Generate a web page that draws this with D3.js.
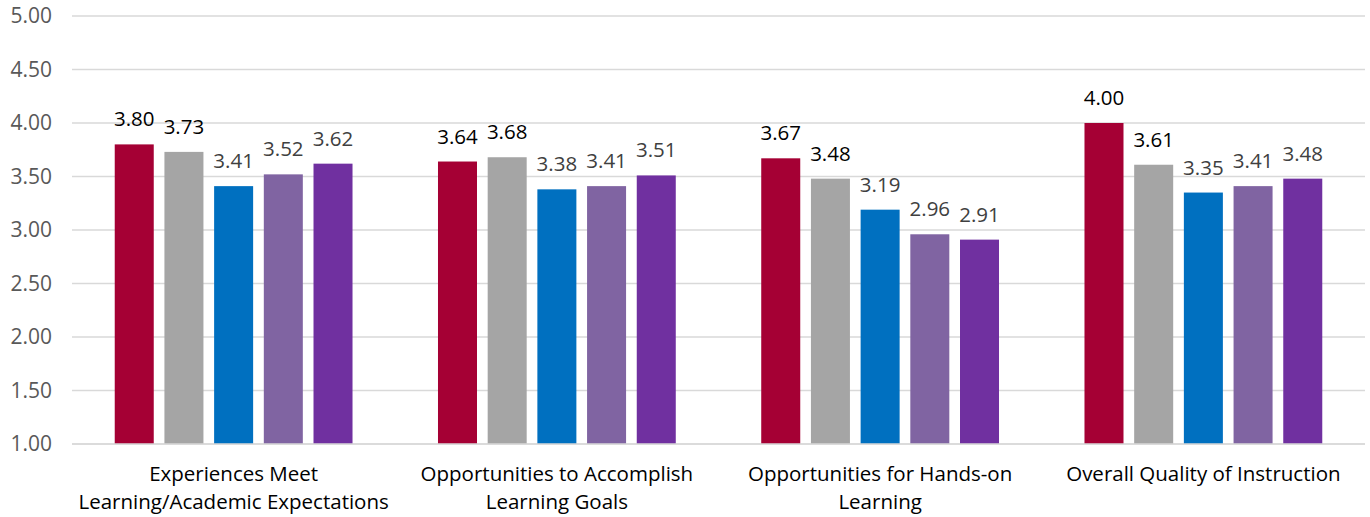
<!DOCTYPE html>
<html>
<head>
<meta charset="utf-8">
<script src="https://cdn.jsdelivr.net/npm/d3@7"></script>
<style>
  html, body { margin: 0; padding: 0; background: #fff; }
  svg { display: block; }
  text { font-family: "Open Sans", "Noto Sans", sans-serif; }
</style>
</head>
<body>
<svg id="chart" width="1370" height="517"></svg>
<script>
// Survey item categories (each label split into its display lines)
const categories = [
  "Experiences Meet Learning/Academic Expectations",
  "Opportunities to Accomplish Learning Goals",
  "Opportunities for Hands-on Learning",
  "Overall Quality of Instruction"
];
const categoryLines = [
  ["Experiences Meet", "Learning/Academic Expectations"],
  ["Opportunities to Accomplish", "Learning Goals"],
  ["Opportunities for Hands-on", "Learning"],
  ["Overall Quality of Instruction"]
];

// Mean ratings, one array per series (five bars per category)
const series1 = [3.80, 3.64, 3.67, 4.00];
const series2 = [3.73, 3.68, 3.48, 3.61];
const series3 = [3.41, 3.38, 3.19, 3.35];
const series4 = [3.52, 3.41, 2.96, 3.41];
const series5 = [3.62, 3.51, 2.91, 3.48];
const seriesValues = [series1, series2, series3, series4, series5];

const seriesColors = ["#A50034", "#A5A5A5", "#0070C0", "#8064A2", "#7030A0"];
const labelColors  = ["#000000", "#000000", "#404040", "#404040", "#404040"];

const yTicks = [1.0, 1.5, 2.0, 2.5, 3.0, 3.5, 4.0, 4.5, 5.0];

const svg = d3.select("#chart");
const margin = { left: 72, right: 5, top: 16, bottom: 73 };
const W = 1370, H = 517;

const x0 = d3.scaleBand()
  .domain(d3.range(categories.length))
  .range([margin.left, W - margin.right])
  .padding(0);

const x1 = d3.scaleBand()
  .domain(d3.range(seriesValues.length))
  .range([0, x0.bandwidth()])
  .paddingInner(0.215)
  .paddingOuter(0.86);

const y = d3.scaleLinear()
  .domain([1, 5])
  .range([H - margin.bottom, margin.top]);

// Horizontal gridlines
svg.append("g")
  .selectAll("line")
  .data(yTicks)
  .join("line")
  .attr("x1", margin.left)
  .attr("x2", W - margin.right)
  .attr("y1", d => y(d))
  .attr("y2", d => y(d))
  .attr("stroke", "#D9D9D9")
  .attr("stroke-width", 1.5);

// Y axis labels
const yAxis = d3.axisLeft(y)
  .tickValues(yTicks)
  .tickFormat(d3.format(".2f"))
  .tickSize(0)
  .tickPadding(0);
const yg = svg.append("g")
  .attr("transform", `translate(${margin.left - 20},0)`)
  .call(yAxis);
yg.select(".domain").remove();
yg.selectAll("text")
  .attr("fill", "#595959")
  .attr("font-size", 21)
  .attr("font-family", "'Open Sans', sans-serif");

// Bars
const groups = svg.append("g")
  .selectAll("g")
  .data(categories.map((c, i) => i))
  .join("g")
  .attr("transform", i => `translate(${x0(i)},0)`);

groups.selectAll("rect")
  .data(i => seriesValues.map((s, k) => ({ k, v: s[i] })))
  .join("rect")
  .attr("x", d => x1(d.k))
  .attr("width", x1.bandwidth())
  .attr("y", d => y(d.v))
  .attr("height", d => y(1) - y(d.v))
  .attr("fill", d => seriesColors[d.k]);

// Value labels above bars
groups.selectAll("text.val")
  .data(i => seriesValues.map((s, k) => ({ k, v: s[i] })))
  .join("text")
  .attr("class", "val")
  .attr("x", d => x1(d.k) + x1.bandwidth() / 2)
  .attr("y", d => y(d.v) - 18)
  .attr("text-anchor", "middle")
  .attr("font-size", 20.5)
  .attr("fill", d => labelColors[d.k])
  .text(d => d3.format(".2f")(d.v));

// Baseline
svg.append("line")
  .attr("x1", margin.left)
  .attr("x2", W - margin.right)
  .attr("y1", y(1))
  .attr("y2", y(1))
  .attr("stroke", "#D9D9D9")
  .attr("stroke-width", 1.5);

// Category labels, one text element per line
const catLabels = svg.append("g")
  .selectAll("g")
  .data(categoryLines)
  .join("g")
  .attr("transform", (d, i) => `translate(${x0(i) + x0.bandwidth() / 2},0)`);

catLabels.selectAll("text")
  .data(d => d)
  .join("text")
  .attr("text-anchor", "middle")
  .attr("font-size", 20.5)
  .attr("fill", "#000")
  .attr("x", 0)
  .attr("y", (d, j) => 481 + j * 28)
  .text(d => d);
</script>
</body>
</html>
